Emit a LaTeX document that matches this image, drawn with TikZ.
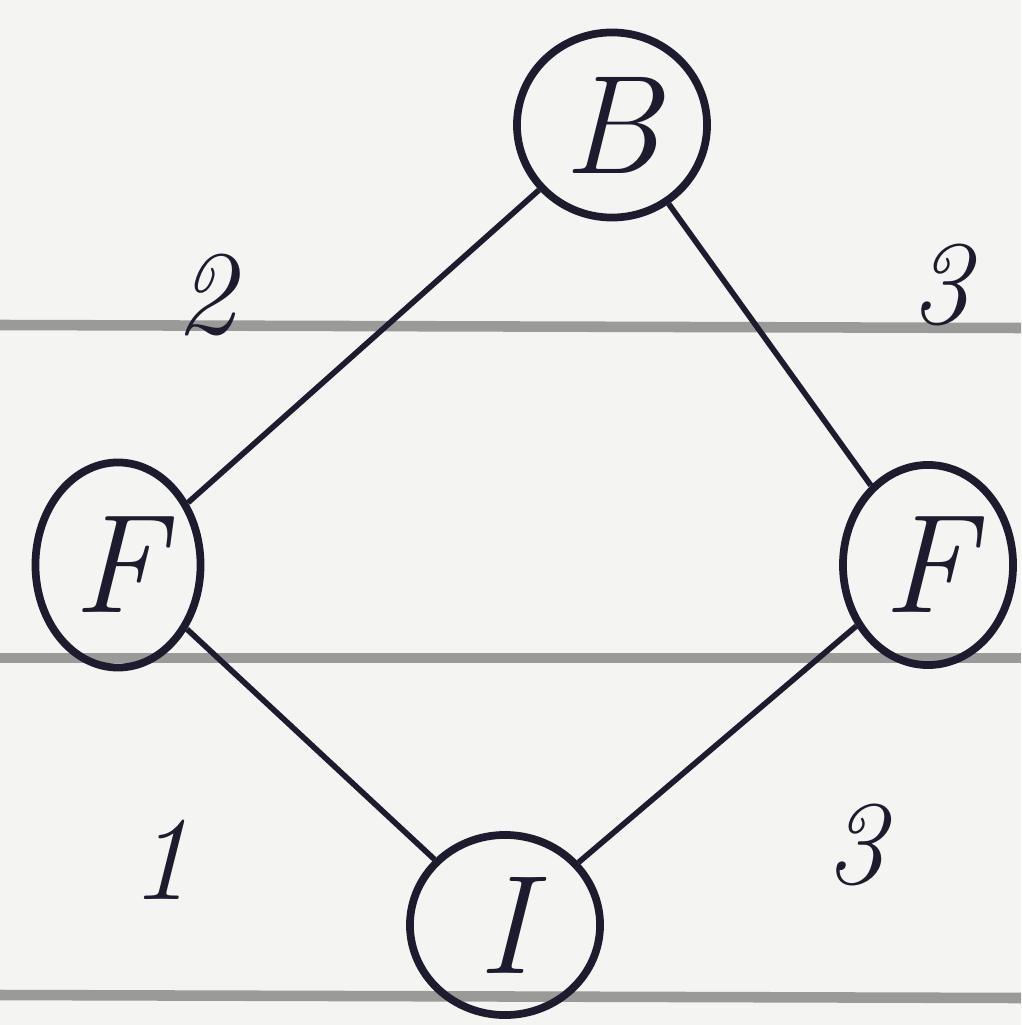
\documentclass[tikz,border=0pt]{standalone}
\usetikzlibrary{shapes.geometric}
\definecolor{paper}{HTML}{F4F4F2}
\definecolor{rule}{HTML}{9A9A98}
\definecolor{ink}{HTML}{1C1C2E}
\begin{document}
\begin{tikzpicture}[x=0.01cm,y=-0.01cm,
  vert/.style={draw=ink,line width=2.2pt,ellipse,inner sep=0pt,font=\fontsize{40}{40}\selectfont\itshape,text=ink},
  edge/.style={draw=ink,line width=1.6pt},
  wlabel/.style={font=\fontsize{34}{34}\selectfont\itshape,text=ink},
  ruleline/.style={draw=rule,line width=3pt}]
\fill[paper] (0,0) rectangle (1021,1025);
\useasboundingbox (0,0) rectangle (1021,1025);
\draw[ruleline] (0,325) -- (1021,328);
\draw[ruleline] (0,658) -- (1021,658);
\draw[ruleline] (0,995) -- (1021,998);
\node[vert,minimum width=1.9cm,minimum height=1.85cm] (B) at (612,125) {B};
\node[vert,minimum width=1.65cm,minimum height=2.05cm] (FL) at (118,565) {F};
\node[vert,minimum width=1.7cm,minimum height=2.0cm] (FR) at (928,565) {F};
\node[vert,minimum width=1.9cm,minimum height=1.8cm] (I) at (505,925) {I};
\draw[edge] (B) -- (FL);
\draw[edge] (B) -- (FR);
\draw[edge] (FL) -- (I);
\draw[edge] (FR) -- (I);
\node[wlabel] (w2) at (205,295) {2};
\node[wlabel] (w3a) at (940,285) {3};
\node[wlabel] (w1) at (160,860) {1};
\node[wlabel] (w3b) at (855,845) {3};
\end{tikzpicture}
\end{document}
